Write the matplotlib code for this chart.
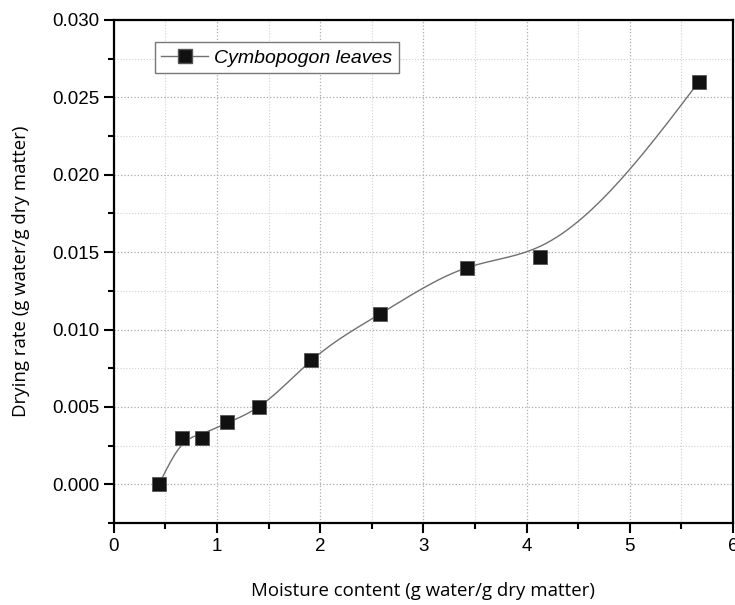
import numpy as np
import matplotlib.pyplot as plt
from matplotlib.ticker import MultipleLocator

moisture = [0.44, 0.66, 0.85, 1.10, 1.41, 1.91, 2.58, 3.42, 4.13, 5.67]
rate = [0.0, 0.003, 0.003, 0.004, 0.005, 0.008, 0.011, 0.014, 0.0147, 0.026]


def natural_spline(x, y, xs):
    x = np.asarray(x, float)
    y = np.asarray(y, float)
    n = len(x)
    h = np.diff(x)
    A = np.zeros((n, n))
    b = np.zeros(n)
    A[0, 0] = A[-1, -1] = 1
    for i in range(1, n - 1):
        A[i, i - 1] = h[i - 1]
        A[i, i] = 2 * (h[i - 1] + h[i])
        A[i, i + 1] = h[i]
        b[i] = 6 * ((y[i + 1] - y[i]) / h[i] - (y[i] - y[i - 1]) / h[i - 1])
    m = np.linalg.solve(A, b)
    idx = np.clip(np.searchsorted(x, xs) - 1, 0, n - 2)
    x0, x1 = x[idx], x[idx + 1]
    hh = x1 - x0
    t0, t1 = x1 - xs, xs - x0
    return (m[idx] * t0 ** 3 / (6 * hh) + m[idx + 1] * t1 ** 3 / (6 * hh)
            + (y[idx] / hh - m[idx] * hh / 6) * t0
            + (y[idx + 1] / hh - m[idx + 1] * hh / 6) * t1)


def smoothed_knots(x, y, lam, w):
    # weighted Reinsch smoothing spline: knot values g
    x = np.asarray(x, float)
    y = np.asarray(y, float)
    n = len(x)
    h = np.diff(x)
    Q = np.zeros((n, n - 2))
    R = np.zeros((n - 2, n - 2))
    for j in range(1, n - 1):
        Q[j - 1, j - 1] = 1 / h[j - 1]
        Q[j, j - 1] = -1 / h[j - 1] - 1 / h[j]
        Q[j + 1, j - 1] = 1 / h[j]
        R[j - 1, j - 1] = (h[j - 1] + h[j]) / 3
        if j < n - 2:
            R[j - 1, j] = R[j, j - 1] = h[j] / 6
    Winv = np.diag(1 / np.asarray(w, float))
    gamma = np.linalg.solve(R + lam * Q.T @ Winv @ Q, Q.T @ y)
    return y - lam * Winv @ Q @ gamma


weights = [200, 40, 40, 60, 60, 60, 60, 60, 1, 200]
xs = np.linspace(moisture[0], moisture[-1], 400)
ys = natural_spline(moisture, smoothed_knots(moisture, rate, 0.03, weights), xs)

fig = plt.figure(figsize=(7.35, 6.05), dpi=100)
ax = fig.add_axes([0.155, 0.1355, 0.842, 0.8315])

ax.plot(xs, ys, color='#707070', lw=1.0, zorder=2)
ax.plot(moisture, rate, 's', color='#111111', mec='#555555', mew=0.6, ms=10, zorder=3)
ax.plot([], [], '-s', color='#707070', mfc='#111111', mec='#555555', ms=10, lw=1.0,
        label='Cymbopogon leaves')
leg = ax.legend(loc='upper left', bbox_to_anchor=(0.05, 0.975), fancybox=False,
                edgecolor='#777777', framealpha=1,
                prop={'family': 'Liberation Sans', 'style': 'italic', 'size': 14},
                handlelength=2.4, borderpad=0.35, handletextpad=0.3)
leg.get_frame().set_linewidth(1.0)

ax.set_xlim(0, 6)
ax.set_ylim(-0.0025, 0.030)
ax.xaxis.set_major_locator(MultipleLocator(1))
ax.xaxis.set_minor_locator(MultipleLocator(0.5))
ax.yaxis.set_major_locator(MultipleLocator(0.005))
ax.yaxis.set_minor_locator(MultipleLocator(0.0025))
ax.yaxis.set_major_formatter(plt.FormatStrFormatter('%.3f'))

ax.grid(which='major', color='#aaaaaa', ls=':', lw=0.9)
ax.grid(which='minor', color='#d0d0d0', ls=':', lw=0.8)
ax.set_axisbelow(True)

for s in ax.spines.values():
    s.set_linewidth(1.6)
ax.tick_params(which='major', direction='out', length=7, width=1.5,
               labelsize=13.5, top=False, right=False)
ax.tick_params(which='minor', direction='out', length=4, width=1.5)
for lab in ax.get_xticklabels() + ax.get_yticklabels():
    lab.set_family('Liberation Sans')

ax.set_xlabel('Moisture content (g water/g dry matter)', family='Open Sans',
              fontsize=13.4, labelpad=20)
ax.set_ylabel('Drying rate (g water/g dry matter)', family='Open Sans',
              fontsize=13.4, labelpad=16)

fig.savefig('out.png', dpi=100)
